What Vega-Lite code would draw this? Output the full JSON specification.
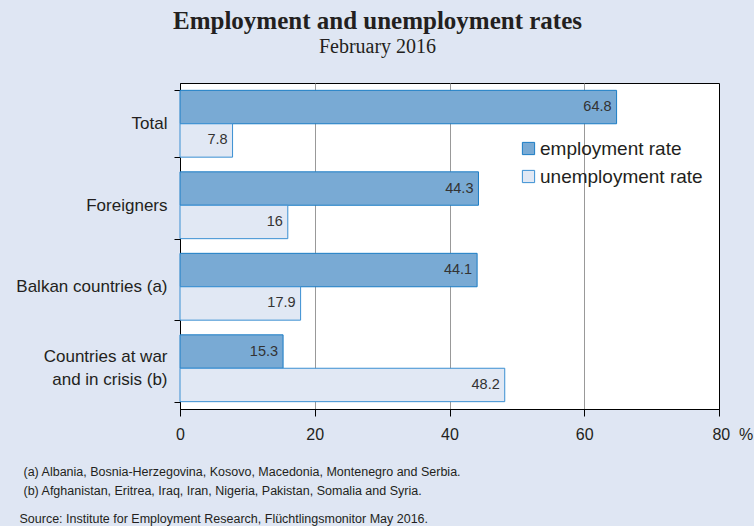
{
  "$schema": "https://vega.github.io/schema/vega-lite/v6.json",
  "width": 539,
  "height": 326,
  "autosize": {"type": "none"},
  "padding": {"left": 180, "top": 83, "right": 35, "bottom": 117},
  "background": "#dfe6f3",
  "title": {
    "text": "Employment and unemployment rates",
    "subtitle": "February 2016",
    "font": "Liberation Serif",
    "fontSize": 25,
    "fontWeight": "bold",
    "color": "#231f20",
    "subtitleFont": "Liberation Serif",
    "subtitleFontSize": 20,
    "subtitleColor": "#231f20",
    "anchor": "middle",
    "dx": -72,
    "offset": 17,
    "subtitlePadding": 3
  },
  "config": {
    "font": "Liberation Sans",
    "view": {"fill": "white", "stroke": "black", "strokeWidth": 1},
    "legend": {
      "orient": "none",
      "legendX": 339,
      "legendY": 56,
      "labelFontSize": 19,
      "labelColor": "#231f20",
      "labelFont": "Liberation Sans",
      "labelLimit": 300,
      "symbolType": "square",
      "symbolSize": 150,
      "symbolStrokeWidth": 1,
      "rowPadding": 8,
      "labelOffset": 2
    }
  },
  "data": {
    "values": [
      {"cat": "Total", "type": "employment rate", "v": 64.8},
      {"cat": "Total", "type": "unemployment rate", "v": 7.8},
      {"cat": "Foreigners", "type": "employment rate", "v": 44.3},
      {"cat": "Foreigners", "type": "unemployment rate", "v": 16},
      {"cat": "Balkan countries (a)", "type": "employment rate", "v": 44.1},
      {"cat": "Balkan countries (a)", "type": "unemployment rate", "v": 17.9},
      {"cat": "Countries at war|and in crisis (b)", "type": "employment rate", "v": 15.3},
      {"cat": "Countries at war|and in crisis (b)", "type": "unemployment rate", "v": 48.2}
    ]
  },
  "encoding": {
    "y": {
      "field": "cat",
      "type": "nominal",
      "sort": null,
      "scale": {"paddingInner": 0.18, "paddingOuter": 0.09},
      "axis": {
        "title": "Source: Institute for Employment Research, Flüchtlingsmonitor May 2016.",
        "titleAngle": 0,
        "titleAlign": "left",
        "titleBaseline": "alphabetic",
        "titleX": -161,
        "titleY": 439,
        "titleFontSize": 12.5,
        "titleFontWeight": "normal",
        "titleColor": "#231f20",
        "labelExpr": "split(datum.label, '|')",
        "labelFontSize": 17,
        "labelColor": "#231f20",
        "labelPadding": 7,
        "labelLineHeight": 23,
        "labelBaseline": {"condition": {"test": "datum.value == 'Countries at war|and in crisis (b)'", "value": "line-bottom"}, "value": "middle"},
        "tickBand": "extent",
        "tickSize": 6,
        "tickColor": "black",
        "domainColor": "black",
        "grid": false
      }
    },
    "x": {
      "field": "v",
      "type": "quantitative",
      "scale": {"domain": [0, 80], "nice": false},
      "axis": {
        "title": [
          "(a) Albania, Bosnia-Herzegovina, Kosovo, Macedonia, Montenegro and Serbia.",
          "(b) Afghanistan, Eritrea, Iraq, Iran, Nigeria, Pakistan, Somalia and Syria."
        ],
        "titleAlign": "left",
        "titleBaseline": "alphabetic",
        "titleX": -157,
        "titleY": 66,
        "titleFontSize": 12.5,
        "titleFontWeight": "normal",
        "titleLineHeight": 19,
        "titleColor": "#231f20",
        "values": [0, 20, 40, 60, 80],
        "labelExpr": "datum.value == 80 ? '\u200b\u00a0\u00a0\u00a0\u00a0\u00a0\u00a080\u00a0\u00a0%' : datum.label",
        "labelFontSize": 16,
        "labelColor": "#231f20",
        "labelPadding": 10,
        "labelFlush": false,
        "labelOverlap": false,
        "tickSize": 7,
        "tickColor": "black",
        "domainColor": "black",
        "gridColor": {"condition": {"test": "datum.value == 0 || datum.value == 80", "value": "transparent"}, "value": "#999999"}
      }
    },
    "yOffset": {"field": "type", "type": "nominal", "scale": {"paddingInner": 0, "paddingOuter": 0}}
  },
  "layer": [
    {
      "mark": {"type": "bar", "strokeWidth": 1},
      "encoding": {
        "fill": {"field": "type", "type": "nominal", "scale": {"range": ["#79aad4", "#e1e8f4"]}, "legend": {"title": null}},
        "stroke": {"field": "type", "type": "nominal", "scale": {"range": ["#1b7dc5", "#3a8fd2"]}, "legend": {"title": null}}
      }
    },
    {
      "mark": {"type": "text", "align": "right", "baseline": "middle", "dx": -5, "fontSize": 14.5, "color": "#333333"},
      "encoding": {"text": {"field": "v", "type": "quantitative"}}
    }
  ]
}
